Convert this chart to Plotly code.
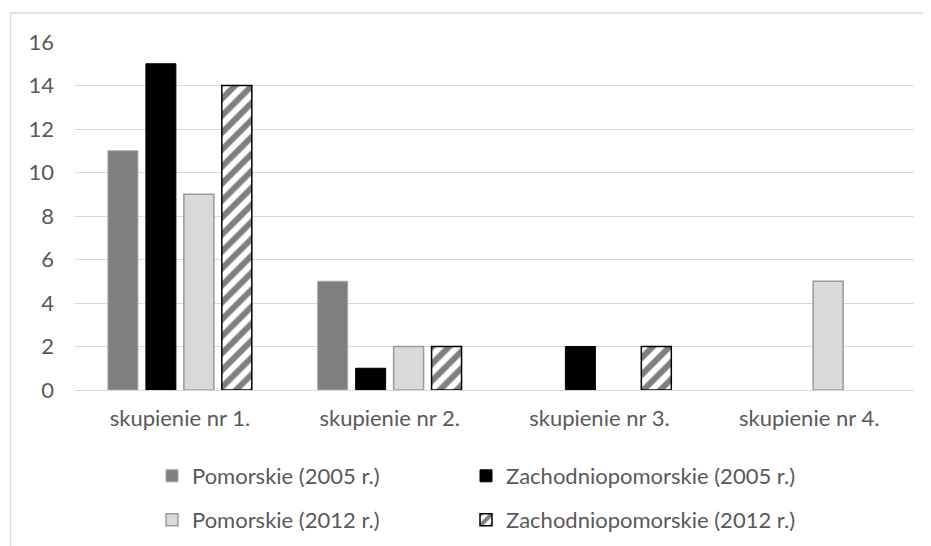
import plotly.graph_objects as go

categories = ["skupienie nr 1.", "skupienie nr 2.", "skupienie nr 3.", "skupienie nr 4."]
pom_2005 = [11, 5, 0, 0]
zach_2005 = [15, 1, 2, 0]
pom_2012 = [9, 2, 0, 5]
zach_2012 = [14, 2, 2, 0]
y_ticks = [0, 2, 4, 6, 8, 10, 12, 14, 16]

FONT = "Lato"
TXT = "#595959"
FS = 22


def nz(vals):
    # empty categories have no visible bar in the original
    return [v if v != 0 else None for v in vals]


fig = go.Figure()
fig.add_trace(go.Bar(
    x=categories, y=nz(pom_2005), name="Pomorskie (2005 r.)",
    marker=dict(color="#7f7f7f", line=dict(color="#a6a6a6", width=1)),
    legend="legend", showlegend=True,
))
fig.add_trace(go.Bar(
    x=categories, y=nz(zach_2005), name="Zachodniopomorskie (2005 r.)",
    marker=dict(color="#000000", line=dict(color="#000000", width=1)),
    legend="legend2", showlegend=True,
))
fig.add_trace(go.Bar(
    x=categories, y=nz(pom_2012), name="Pomorskie (2012 r.)",
    marker=dict(color="#d9d9d9", line=dict(color="#9a9a9a", width=1.5)),
    legend="legend3", showlegend=True,
))
fig.add_trace(go.Bar(
    x=categories, y=nz(zach_2012), name="Zachodniopomorskie (2012 r.)",
    marker=dict(color="#ffffff", line=dict(color="#000000", width=1.5),
                pattern=dict(shape="/", fgcolor="#000000", bgcolor="#ffffff",
                             size=12, solidity=0.5, fillmode="overlay")),
    legend="legend4", showlegend=True,
))

# the page body has an 8px margin; work in absolute window pixels
OFF = 8
W, H = 931 - OFF, 546 - OFF
PX0, PX1, PY0, PY1 = 75, 914, 42, 390  # plot area in window pixels
L, R = PX0 - OFF, W - (PX1 - OFF)
T, B = PY0 - OFF, H - (PY1 - OFF)
pw, ph = W - L - R, H - T - B


def px2x(px):
    return (px - OFF - L) / pw


def py2y(py):
    return (PY1 - py) / ph


legend_common = dict(
    orientation="h", xanchor="left", yanchor="middle",
    font=dict(family=FONT, size=FS, color=TXT),
    bgcolor="rgba(0,0,0,0)",
)

COL1, COL2 = 152, 466
ROW1, ROW2 = 476, 520

fig.update_layout(
    width=W, height=H,
    showlegend=True,
    margin=dict(l=L, r=R, t=T, b=B, autoexpand=False),
    paper_bgcolor="white", plot_bgcolor="white",
    barmode="group", bargap=0.276, bargroupgap=0.21,
    font=dict(family=FONT, size=FS, color=TXT),
    xaxis=dict(
        showgrid=False, showline=False, zeroline=False,
        tickfont=dict(family=FONT, size=FS, color=TXT),
        ticklabelstandoff=13,
    ),
    yaxis=dict(
        range=[0, 16], tickvals=y_ticks, showgrid=True,
        gridcolor="#d9d9d9", gridwidth=1.3,
        zeroline=True, zerolinecolor="#d9d9d9", zerolinewidth=1.3,
        showline=False,
        tickfont=dict(family=FONT, size=FS, color=TXT),
        ticklabelstandoff=20,
    ),
    legend=dict(x=px2x(COL1), y=py2y(ROW1), **legend_common),
    legend2=dict(x=px2x(COL2), y=py2y(ROW1), **legend_common),
    legend3=dict(x=px2x(COL1), y=py2y(ROW2), **legend_common),
    legend4=dict(x=px2x(COL2), y=py2y(ROW2), **legend_common),
    shapes=[
        dict(type="line", xref="paper", yref="paper",
             x0=px2x(10.5), x1=px2x(10.5), y0=py2y(570), y1=py2y(13),
             line=dict(color="#d9d9d9", width=1.5)),
        dict(type="line", xref="paper", yref="paper",
             x0=px2x(10.5), x1=px2x(960), y0=py2y(13), y1=py2y(13),
             line=dict(color="#d9d9d9", width=1.5)),
    ],
)

fig.write_html("out.html")
